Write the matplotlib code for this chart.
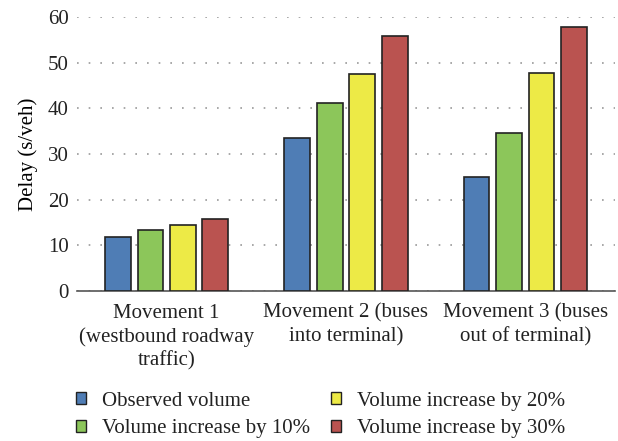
import matplotlib.pyplot as plt
import numpy as np
from matplotlib.patches import Patch

# delay per movement for each volume scenario
movements = ["Movement 1\n(westbound roadway\ntraffic)",
             "Movement 2 (buses\ninto terminal)",
             "Movement 3 (buses\nout of terminal)"]
series_names = ["Observed volume", "Volume increase by 10%",
                "Volume increase by 20%", "Volume increase by 30%"]
observed = [11.9, 33.6, 25.0]
inc_10 = [13.4, 41.2, 34.7]
inc_20 = [14.5, 47.5, 47.8]
inc_30 = [15.8, 55.9, 57.9]
colors = ["#4F7DB5", "#8CC65A", "#EDEA46", "#BA5350"]

plt.rcParams['font.family'] = ['Liberation Serif', 'DejaVu Serif']
plt.rcParams['font.size'] = 15
plt.rcParams['text.color'] = "#222222"

fig = plt.figure(figsize=(6.18, 4.41), dpi=100)
ax = fig.add_axes([0.1246, 0.340, 0.8704, 0.621])

x = np.arange(len(movements))
pitch = 0.181
width = 0.144
for i, vals in enumerate([observed, inc_10, inc_20, inc_30]):
    ax.bar(x + (i - 1.5) * pitch, vals, width, color=colors[i],
           edgecolor="#222222", linewidth=1.2, zorder=3)

ax.set_xlim(-0.5, 2.5)
ax.set_ylim(0, 60)
ax.set_yticks(np.arange(0, 61, 10))
ax.set_xticks(x)
ax.set_xticklabels(movements, linespacing=1.3)
ax.set_ylabel("Delay (s/veh)", labelpad=7)
ax.tick_params(length=0, colors="#222222")
ax.tick_params(axis='x', pad=9)
ax.tick_params(axis='y', pad=6)
for s in ['top', 'right', 'left']:
    ax.spines[s].set_visible(False)
ax.spines['bottom'].set_color("#555555")
ax.spines['bottom'].set_linewidth(1.2)
ax.yaxis.grid(True, linestyle=(0, (1, 6)), color="#999999", linewidth=1.2, zorder=0)
ax.set_axisbelow(True)

handles = [Patch(facecolor=c, edgecolor="#222222", linewidth=1) for c in colors]
fig.legend(handles, series_names, ncol=2, loc='upper left',
           bbox_to_anchor=(0.123, 0.112), frameon=False,
           handlelength=0.48, handleheight=0.48, handletextpad=0.77,
           columnspacing=1.0, labelspacing=0.42, borderpad=0, borderaxespad=0)

fig.savefig("out.png", dpi=100)
